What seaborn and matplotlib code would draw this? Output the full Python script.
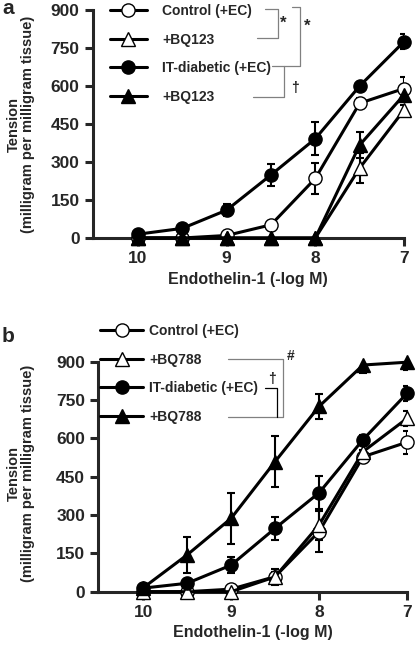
import matplotlib
matplotlib.use("Agg")
import matplotlib.pyplot as plt
from matplotlib.lines import Line2D
import seaborn as sns

sns.set_style("ticks")
plt.rcParams["font.family"] = ["Liberation Sans", "DejaVu Sans"]
plt.rcParams["font.weight"] = "bold"

# concentrations (-log M)
conc = [10, 9.5, 9, 8.5, 8, 7.5, 7]

# panel a
ctrl_a = [0, 0, 10, 52, 235, 532, 590]
ctrl_a_err = [0, 0, 5, 10, 60, 20, 45]
bq123_a = [0, 0, 0, 0, 0, 276, 505]
bq123_a_err = [0, 0, 0, 0, 0, 60, 20]
diab_a = [15, 38, 110, 249, 392, 600, 775]
diab_a_err = [5, 8, 25, 45, 65, 15, 30]
diab_bq123_a = [0, 0, 0, 0, 0, 367, 565]
diab_bq123_a_err = [0, 0, 0, 0, 0, 50, 25]
labels_a = ["Control (+EC)", "+BQ123", "IT-diabetic (+EC)", "+BQ123"]

# panel b
ctrl_b = [0, 0, 10, 59, 235, 528, 585]
ctrl_b_err = [0, 0, 5, 20, 80, 25, 45]
bq788_b = [0, 0, 0, 58, 261, 548, 678]
bq788_b_err = [0, 0, 0, 30, 60, 25, 30]
diab_b = [14, 33, 104, 248, 387, 595, 776]
diab_b_err = [5, 10, 30, 45, 65, 20, 30]
diab_bq788_b = [15, 144, 287, 509, 725, 887, 898]
diab_bq788_b_err = [10, 70, 100, 100, 50, 30, 30]
labels_b = ["Control (+EC)", "+BQ788", "IT-diabetic (+EC)", "+BQ788"]

yticks = [0, 150, 300, 450, 600, 750, 900]
xticks = [10, 9, 8, 7]

W, H = 417, 647
fig = plt.figure(figsize=(W / 100, H / 100), dpi=100)


def px_axes(l, t, r, b):
    return fig.add_axes([l / W, 1 - b / H, (r - l) / W, (b - t) / H])


styles = [
    dict(marker="o", markerfacecolor="white"),
    dict(marker="^", markerfacecolor="white"),
    dict(marker="o", markerfacecolor="black"),
    dict(marker="^", markerfacecolor="black"),
]


def draw_panel(ax, series, errs, ylab_x, ylab_y):
    for vals, err, st in zip(series, errs, styles):
        ax.errorbar(conc, vals, yerr=err, fmt="none", ecolor="black",
                    elinewidth=1.5, capsize=3, capthick=1.5, zorder=2)
        sns.lineplot(x=conc, y=vals, ax=ax, color="black", linewidth=2.2,
                     markeredgecolor="black", markeredgewidth=1,
                     markersize=9.5, zorder=3, clip_on=False, **st)
    ax.set_xlim(10.51, 7)
    ax.set_ylim(0, 900)
    ax.set_xticks(xticks)
    ax.set_yticks(yticks)
    ax.tick_params(width=2.2, length=6, labelsize=12.5, direction="out")
    for lab in ax.get_xticklabels() + ax.get_yticklabels():
        lab.set_fontweight("bold")
    for s in ["left", "bottom"]:
        ax.spines[s].set_linewidth(2.2)
    sns.despine(ax=ax)
    ax.set_xlabel("Endothelin-1 (-log M)", fontsize=11.5, fontweight="bold")
    ax.set_ylabel("Tension\n(milligram per milligram tissue)", fontsize=10.5,
                  fontweight="bold", linespacing=1.0)
    ax.yaxis.set_label_coords(ylab_x, ylab_y)


def handles():
    return [Line2D([], [], color="black", linewidth=2.2, markeredgecolor="black",
                   markeredgewidth=1, markersize=9.5, **st) for st in styles]


def line_px(xs, ys, color="#808080"):
    fig.add_artist(Line2D([x / W for x in xs], [1 - y / H for y in ys],
                          color=color, linewidth=0.9, transform=fig.transFigure))


def text_px(x, y, s, **kw):
    fig.text(x / W, 1 - y / H, s, ha="center", va="center", **kw)


# panel a
ax_a = px_axes(92.7, 10, 404, 238)
draw_panel(ax_a, [ctrl_a, bq123_a, diab_a, diab_bq123_a],
           [ctrl_a_err, bq123_a_err, diab_a_err, diab_bq123_a_err], -0.185, 0.5)
ax_a.legend(handles(), labels_a, loc="upper left", frameon=False,
            bbox_to_anchor=(110 / W, 1 - 4 / H), bbox_transform=fig.transFigure,
            borderpad=0, borderaxespad=0, labelspacing=1.05, handlelength=2.65,
            handletextpad=1.1, prop=dict(weight="bold", size=10))

line_px([265, 278, 278, 257], [9.3, 9.3, 38.3, 38.3])
line_px([292, 300, 300, 272], [6.7, 6.7, 65.5, 65.5])
line_px([284.3, 284.3, 253], [65.5, 96.7, 96.7])
text_px(283.5, 23, "*", fontsize=12, fontweight="bold")
text_px(307, 26, "*", fontsize=12, fontweight="bold")
text_px(295, 88, "\u2020", fontsize=10, fontweight="bold")
text_px(8, 8, "a", fontsize=15, fontweight="bold")

# panel b
ax_b = px_axes(98.3, 361.7, 407, 591.7)
draw_panel(ax_b, [ctrl_b, bq788_b, diab_b, diab_bq788_b],
           [ctrl_b_err, bq788_b_err, diab_b_err, diab_bq788_b_err], -0.205, 0.515)
ax_b.legend(handles(), labels_b, loc="upper left", frameon=False,
            bbox_to_anchor=(100 / W, 1 - 324 / H), bbox_transform=fig.transFigure,
            borderpad=0, borderaxespad=0, labelspacing=1.05, handlelength=3.1,
            handletextpad=0.45, prop=dict(weight="bold", size=10))

line_px([228, 282.7, 282.7, 228], [359, 359, 416.7, 416.7])
line_px([265, 277.3, 277.3], [388.3, 388.3, 416.7], color="black")
text_px(291, 356, "#", fontsize=10, fontweight="bold")
text_px(271.5, 379, "\u2020", fontsize=10, fontweight="bold")
text_px(8, 337, "b", fontsize=15, fontweight="bold")

fig.savefig("out.png", dpi=100)
